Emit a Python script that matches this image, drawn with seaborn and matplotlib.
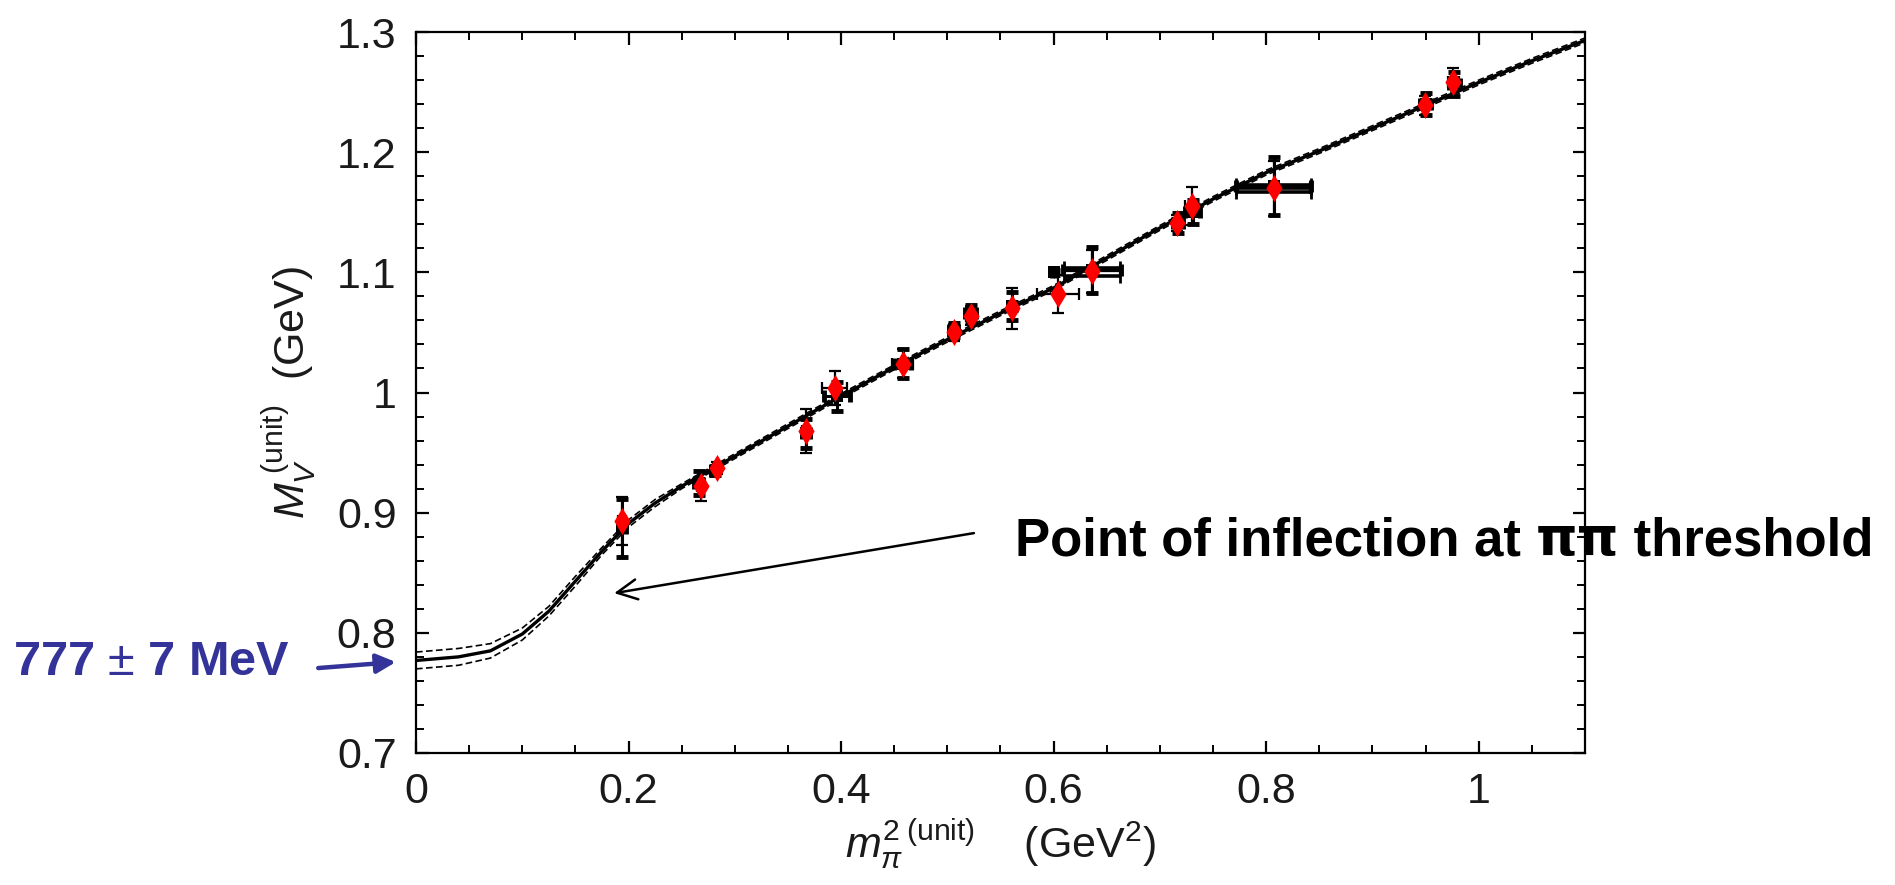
import numpy as np
import pandas as pd
import matplotlib
matplotlib.use("Agg")
import matplotlib.pyplot as plt
import seaborn as sns
from matplotlib.ticker import MultipleLocator, FixedLocator, FixedFormatter

# ---------------- data ----------------
curve_x = [0.0, 0.04, 0.07, 0.10, 0.125, 0.15, 0.175, 0.20, 0.225, 0.25, 0.30,
           0.35, 0.40, 0.45, 0.50, 0.55, 0.60, 0.65, 0.70, 0.75, 0.80, 0.85,
           0.90, 0.95, 1.00, 1.05, 1.10]
curve_y = [0.777, 0.780, 0.785, 0.799, 0.818, 0.843, 0.868, 0.891, 0.908, 0.922, 0.947,
           0.972, 0.997, 1.021, 1.044, 1.066, 1.087, 1.112, 1.137, 1.161, 1.183, 1.201,
           1.220, 1.239, 1.258, 1.276, 1.293]
band_half = [0.007, 0.007, 0.006, 0.005, 0.004, 0.004, 0.003, 0.003, 0.003, 0.002, 0.002,
             0.002, 0.002, 0.002, 0.002, 0.002, 0.002, 0.002, 0.002, 0.002, 0.002, 0.002,
             0.002, 0.002, 0.002, 0.002, 0.002]

red_x    = [0.194, 0.268, 0.283, 0.367, 0.394, 0.458, 0.506, 0.522, 0.561, 0.604, 0.636,
            0.716, 0.730, 0.807, 0.949, 0.976]
red_y    = [0.893, 0.922, 0.937, 0.968, 1.004, 1.024, 1.050, 1.064, 1.070, 1.082, 1.101,
            1.141, 1.155, 1.170, 1.239, 1.258]
red_xerr = [0.004, 0.004, 0.004, 0.004, 0.012, 0.010, 0.004, 0.004, 0.003, 0.020, 0.026,
            0.004, 0.006, 0.034, 0.004, 0.005]
red_yerr = [0.020, 0.012, 0.005, 0.018, 0.014, 0.012, 0.007, 0.008, 0.017, 0.016, 0.018,
            0.007, 0.016, 0.023, 0.008, 0.012]

blk_x    = [0.194, 0.266, 0.281, 0.367, 0.396, 0.458, 0.506, 0.522, 0.561, 0.600, 0.636,
            0.717, 0.731, 0.807, 0.950, 0.977]
blk_y    = [0.887, 0.925, 0.935, 0.966, 0.997, 1.024, 1.052, 1.066, 1.072, 1.100, 1.102,
            1.141, 1.150, 1.172, 1.240, 1.257]
blk_xerr = [0.004, 0.004, 0.003, 0.004, 0.012, 0.008, 0.004, 0.005, 0.004, 0.002, 0.027,
            0.005, 0.007, 0.035, 0.005, 0.005]
blk_yerr = [0.024, 0.010, 0.004, 0.012, 0.012, 0.012, 0.006, 0.007, 0.012, 0.002, 0.019,
            0.008, 0.010, 0.024, 0.009, 0.010]

# extra overlapping horizontal error bars (stacked black bars)
stack_x    = [0.636, 0.636, 0.807, 0.807, 0.807]
stack_y    = [1.097, 1.104, 1.167, 1.170, 1.173]
stack_xerr = [0.026, 0.026, 0.035, 0.035, 0.035]

x_ticks = [0.0, 0.2, 0.4, 0.6, 0.8, 1.0]
x_tick_labels = ["0", "0.2", "0.4", "0.6", "0.8", "1"]
y_ticks = [0.7, 0.8, 0.9, 1.0, 1.1, 1.2, 1.3]
y_tick_labels = ["0.7", "0.8", "0.9", "1", "1.1", "1.2", "1.3"]

inflection_parts = ["Point of inflection at ", "ππ", " threshold"]
mass_text = "777 $\\pm$ 7 MeV"

# ---------------- style ----------------
sns.set_theme(style="ticks")
plt.rcParams["font.family"] = ["Liberation Sans", "DejaVu Sans"]
plt.rcParams["mathtext.fontset"] = "custom"
plt.rcParams["mathtext.rm"] = "Liberation Sans"
plt.rcParams["mathtext.it"] = "Liberation Sans:italic"
plt.rcParams["mathtext.bf"] = "Liberation Sans:bold"

W, H = 1895, 885
fig = plt.figure(figsize=(W / 100, H / 100), dpi=100)
ax = fig.add_axes([416 / W, 1 - 753 / H, (1585 - 416) / W, (753 - 32) / H])

curve = pd.DataFrame({"x": curve_x, "y": curve_y, "h": band_half})
curve["up"] = curve["y"] + curve["h"]
curve["lo"] = curve["y"] - curve["h"]

sns.lineplot(data=curve, x="x", y="up", ax=ax, color="black", lw=1.2,
             linestyle=(0, (4, 2)), zorder=2)
sns.lineplot(data=curve, x="x", y="lo", ax=ax, color="black", lw=1.2,
             linestyle=(0, (4, 2)), zorder=2)
sns.lineplot(data=curve, x="x", y="y", ax=ax, color="black", lw=2.4, zorder=3)

blk = pd.DataFrame({"x": blk_x, "y": blk_y})
red = pd.DataFrame({"x": red_x, "y": red_y})

ax.errorbar(stack_x, stack_y, xerr=stack_xerr, fmt="none",
            ecolor="black", elinewidth=2.6, capsize=5, capthick=2, zorder=4)
ax.errorbar(blk_x, blk_y, xerr=blk_xerr, yerr=blk_yerr, fmt="none",
            ecolor="black", elinewidth=2.2, capsize=4, capthick=3.5, zorder=4)
sns.scatterplot(data=blk, x="x", y="y", ax=ax, marker="s", color="black",
                s=80, edgecolor="black", linewidth=0, zorder=5)
ax.errorbar(red_x, red_y, xerr=red_xerr, yerr=red_yerr, fmt="none",
            ecolor="black", elinewidth=1.6, capsize=4, capthick=1.6, zorder=6)
sns.scatterplot(data=red, x="x", y="y", ax=ax, marker="d", color="#ff0000",
                s=190, edgecolor="#ff0000", linewidth=0, zorder=7)

ax.set_xlim(0, 1.1)
ax.set_ylim(0.7, 1.3)
ax.xaxis.set_major_locator(FixedLocator(x_ticks))
ax.xaxis.set_major_formatter(FixedFormatter(x_tick_labels))
ax.yaxis.set_major_locator(FixedLocator(y_ticks))
ax.yaxis.set_major_formatter(FixedFormatter(y_tick_labels))
ax.xaxis.set_minor_locator(MultipleLocator(0.05))
ax.yaxis.set_minor_locator(MultipleLocator(0.02))
ax.tick_params(which="both", direction="in", top=True, right=True, color="black")
ax.tick_params(which="major", length=9, width=1.6, labelsize=31, pad=14,
               labelcolor="#1a1a1a")
ax.tick_params(which="minor", length=6, width=1.4)
for s in ax.spines.values():
    s.set_visible(True)
    s.set_linewidth(1.6)
    s.set_color("black")

ax.set_xlabel(r"$m_{\pi}^{2\;(\mathrm{unit})}$    (GeV$^{2}$)", fontsize=31,
              color="#1a1a1a", labelpad=4)
ax.set_ylabel(r"$M_V^{\;(\mathrm{unit})}$  (GeV)", fontsize=31,
              color="#1a1a1a", labelpad=13)

# annotations: inflection text, with upright pi glyphs from DejaVu Sans
renderer = fig.canvas.get_renderer()
x0 = 1015 / W
yb = 1 - 555 / H
families = [["Liberation Sans", "DejaVu Sans"], ["DejaVu Sans"], ["Liberation Sans", "DejaVu Sans"]]
for part, fam in zip(inflection_parts, families):
    t = fig.text(x0, yb, part, fontsize=38, fontweight="bold", family=fam,
                 color="black", ha="left", va="baseline")
    bb = t.get_window_extent(renderer=renderer)
    x0 = bb.x1 / W
ax.annotate("", xy=(0.1865, 0.833), xytext=(0.525, 0.883),
            arrowprops=dict(arrowstyle="->", lw=1.8, color="black",
                            mutation_scale=36, shrinkA=0, shrinkB=0),
            annotation_clip=False, zorder=8)

fig.text(13 / W, 1 - 675 / H, mass_text, fontsize=35, fontweight="bold",
         color="#333399", ha="left", va="baseline")
ax.annotate("", xy=(-0.019, 0.7757), xytext=(-0.092, 0.7707),
            arrowprops=dict(arrowstyle="-|>", lw=3.2, color="#333399",
                            mutation_scale=29, shrinkA=0, shrinkB=0),
            annotation_clip=False, zorder=8)

fig.savefig("out.png", dpi=100)
